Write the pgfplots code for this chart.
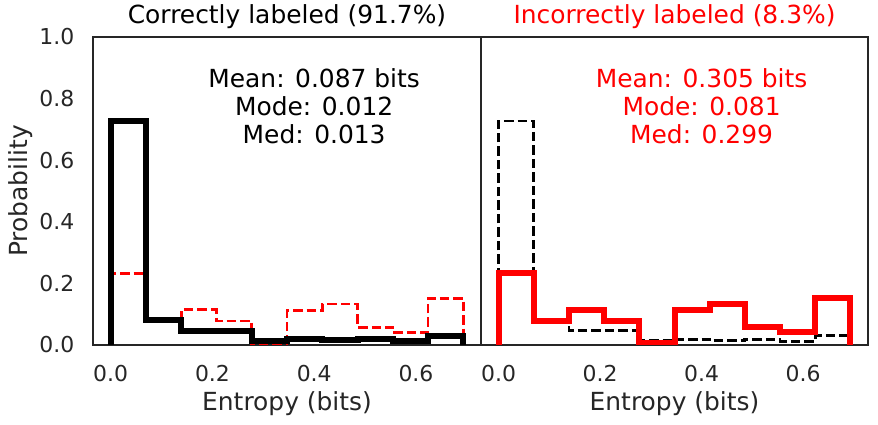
\documentclass[border=0pt]{standalone}
\usepackage{fontspec}
\setmainfont{DejaVu Sans}
\usepackage{pgfplots}
\pgfplotsset{compat=1.18}
\definecolor{axgray}{HTML}{262626}
\begin{document}
\begin{tikzpicture}
\useasboundingbox (0bp,0bp) rectangle (878bp,425bp);
\pgfplotsset{
  base/.style={
    scale only axis, height=308bp,
    xmin=-0.0347, xmax=0.7278, ymin=0, ymax=1,
    xtick={0,0.2,0.4,0.6}, xticklabels={0.0,0.2,0.4,0.6},
    ytick={0,0.2,0.4,0.6,0.8,1.0}, yticklabels={0.0,0.2,0.4,0.6,0.8,1.0},
    major tick length=0pt,
    axis line style={axgray, line width=2.2bp},
    tick label style={font=\fontsize{22}{26}\selectfont, text=axgray},
    xticklabel style={anchor=north, inner sep=0pt, yshift=-20bp},
    yticklabel style={anchor=east, inner sep=0pt, xshift=-18.5bp},
    /pgf/number format/assume math mode=true,
    xlabel={Entropy (bits)},
    xlabel style={font=\fontsize{25}{30}\selectfont, text=axgray, at={([yshift=-65bp]axis description cs:0.5,0)}, anchor=base, inner sep=0pt},
    title style={font=\fontsize{25}{30}\selectfont, at={([yshift=8bp]axis description cs:0.5,1)}, anchor=base, inner sep=0pt},
    const plot mark left,
    line join=miter,
  },
  thick black/.style={black, line width=6bp},
  thick red/.style={red, line width=6bp},
  dash black/.style={black, line width=2.8bp, dash pattern=on 9.5bp off 4bp},
  dash red/.style={red, line width=2.8bp, dash pattern=on 9.5bp off 4bp},
}
% Left panel: correctly labeled
\begin{axis}[base, at={(93bp,80bp)}, anchor=south west, width=388bp,
  title={Correctly labeled (91.7\%)},
  ylabel={Probability},
  ylabel style={font=\fontsize{25}{30}\selectfont, text=axgray, at={([xshift=-65bp]axis description cs:0,0.5)}, anchor=base, inner sep=0pt},
]
\addplot[dash red] coordinates {(0,0) (0,0.232) (0.0693,0.079) (0.1386,0.114) (0.2079,0.078) (0.2773,0.006) (0.3466,0.113) (0.4159,0.133) (0.4852,0.058) (0.5545,0.040) (0.6238,0.152) (0.6931,0)};
\addplot[thick black] coordinates {(0,0) (0,0.727) (0.0693,0.081) (0.1386,0.044) (0.2079,0.044) (0.2773,0.014) (0.3466,0.019) (0.4159,0.015) (0.4852,0.019) (0.5545,0.012) (0.6238,0.030) (0.6931,0)};
\node[align=center, inner sep=0pt, font=\fontsize{25}{28}\selectfont, text=black] at (axis description cs:0.57,0.776) {Mean: 0.087 bits\\Mode: 0.012\\Med: 0.013};
\end{axis}
% Right panel: incorrectly labeled
\begin{axis}[base, at={(481bp,80bp)}, anchor=south west, width=387bp,
  title={\textcolor{red}{Incorrectly labeled (8.3\%)}},
  yticklabels={},
]
\addplot[dash black] coordinates {(0,0) (0,0.727) (0.0693,0.081) (0.1386,0.046) (0.2079,0.046) (0.2773,0.014) (0.3466,0.019) (0.4159,0.014) (0.4852,0.019) (0.5545,0.012) (0.6238,0.030) (0.6931,0)};
\addplot[thick red] coordinates {(0,0) (0,0.233) (0.0693,0.079) (0.1386,0.115) (0.2079,0.079) (0.2773,0.007) (0.3466,0.115) (0.4159,0.134) (0.4852,0.058) (0.5545,0.042) (0.6238,0.153) (0.6931,0)};
\node[align=center, inner sep=0pt, font=\fontsize{25}{28}\selectfont, text=red] at (axis description cs:0.57,0.776) {Mean: 0.305 bits\\Mode: 0.081\\Med: 0.299};
\end{axis}
\end{tikzpicture}
\end{document}
